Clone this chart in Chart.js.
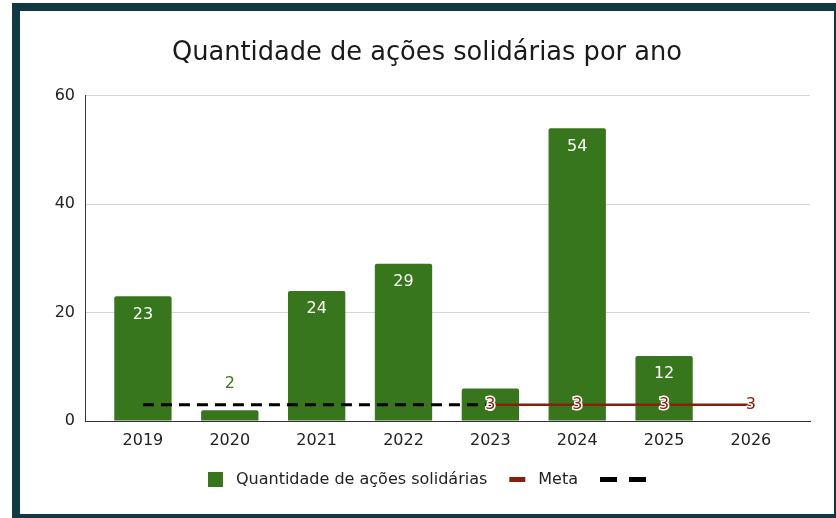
<!DOCTYPE html>
<html lang="pt-BR">
<head>
<meta charset="utf-8">
<title>Quantidade de ações solidárias por ano</title>
<script src="https://cdn.jsdelivr.net/npm/chart.js@4"></script>
<style>
  html, body { margin: 0; padding: 0; background: #fff; overflow: hidden; }
  .moldura {
    position: absolute;
    left: 12px;
    top: 3px;
    width: 814px;
    height: 503px;
    border: 8px solid #0f3a43;
    background: #fff;
  }
  canvas { display: block; }
</style>
</head>
<body>
<div class="moldura"><canvas id="graficoAcoes" width="814" height="503"></canvas></div>
<script>
const anos = ["2019", "2020", "2021", "2022", "2023", "2024", "2025", "2026"];
const acoes = [23, 2, 24, 29, 6, 54, 12, null];
const meta = [null, null, null, null, 3, 3, 3, 3];
const metaAnterior = [3, 3, 3, 3, 3, null, null, null];
const ticksY = [0, 20, 40, 60];

const VERDE = "#38761d";
const VERMELHO = "#85200c";
const FONTE = "'DejaVu Sans', Verdana, sans-serif";
const TAM = 16;

Chart.defaults.font.family = FONTE;
Chart.defaults.font.size = TAM;
Chart.defaults.color = "#222";

// pares {x, y} para o eixo x linear (sem os valores vazios)
const pontos = (lista) => lista
  .map((v, i) => ({ x: i, y: v }))
  .filter(p => p.y !== null);

// rótulos de valor das barras e da meta
const rotulos = {
  id: "rotulos",
  afterDatasetsDraw(chart) {
    const ctx = chart.ctx;
    const yScale = chart.scales.y;
    ctx.save();
    ctx.font = TAM + "px " + FONTE;
    ctx.textAlign = "center";
    ctx.textBaseline = "middle";

    const barras = chart.getDatasetMeta(0);
    barras.data.forEach((el, k) => {
      const ponto = chart.data.datasets[0].data[k];
      const altura = el.base - el.y;
      if (altura > 30) {
        ctx.fillStyle = "#fff";
        ctx.fillText(String(ponto.y), el.x, el.y + 18);
      } else {
        const alvo = metaAnterior[ponto.x] ?? meta[ponto.x];
        const yLinha = yScale.getPixelForValue(alvo);
        ctx.fillStyle = VERDE;
        ctx.fillText(String(ponto.y), el.x, Math.min(el.y, yLinha - 13) - 7.5);
      }
    });

    const linhaMeta = chart.getDatasetMeta(1);
    linhaMeta.data.forEach((el, k) => {
      const txt = String(chart.data.datasets[1].data[k].y);
      ctx.lineWidth = 3;
      ctx.strokeStyle = "#fff";
      ctx.lineJoin = "round";
      ctx.strokeText(txt, el.x, el.y);
      ctx.fillStyle = VERMELHO;
      ctx.fillText(txt, el.x, el.y);
    });
    ctx.restore();
  }
};

// legenda desenhada à mão: quadrado, traço e traço duplo
const legendaManual = {
  id: "legendaManual",
  afterDraw(chart) {
    const ctx = chart.ctx;
    const cy = chart.chartArea.bottom + 58.5;
    ctx.save();
    ctx.font = TAM + "px " + FONTE;
    ctx.textBaseline = "middle";
    const itens = chart.data.datasets.map(ds => {
      let marca = 15;
      if (ds.type === "line") marca = ds.borderDash ? 46 : 16;
      const texto = ds.label || "";
      const larguraTexto = texto ? 13 + ctx.measureText(texto).width : 0;
      return { ds, marca, texto, largura: marca + larguraTexto };
    });
    const total = itens.reduce((s, it) => s + it.largura, 0) + 22 * (itens.length - 1);
    let x = (chart.width - total) / 2;
    itens.forEach(it => {
      const ds = it.ds;
      if (ds.type !== "line") {
        ctx.fillStyle = ds.backgroundColor;
        ctx.fillRect(x, cy - 7.5, 15, 15);
      } else {
        ctx.fillStyle = ds.borderColor;
        if (ds.borderDash) {
          ctx.fillRect(x, cy - 2.5, 17, 5);
          ctx.fillRect(x + 29, cy - 2.5, 17, 5);
        } else {
          ctx.fillRect(x, cy - 2.5, 16, 5);
        }
      }
      if (it.texto) {
        ctx.fillStyle = "#222";
        ctx.fillText(it.texto, x + it.marca + 13, cy + 0.5);
      }
      x += it.largura + 22;
    });
    ctx.restore();
  }
};

new Chart(document.getElementById("graficoAcoes"), {
  type: "bar",
  data: {
    datasets: [
      {
        label: "Quantidade de ações solidárias",
        data: pontos(acoes),
        backgroundColor: VERDE,
        borderRadius: 2,
        borderSkipped: "bottom",
        barPercentage: 0.66,
        categoryPercentage: 1,
        order: 2
      },
      {
        type: "line",
        label: "Meta",
        data: pontos(meta),
        borderColor: VERMELHO,
        borderWidth: 2.5,
        pointRadius: 0,
        tension: 0,
        order: 1
      },
      {
        type: "line",
        label: "",
        data: pontos(metaAnterior),
        borderColor: "#000",
        borderWidth: 3,
        borderDash: [11, 7],
        pointRadius: 0,
        tension: 0,
        order: 1
      }
    ]
  },
  options: {
    responsive: false,
    animation: false,
    layout: { padding: { left: 24, right: 24, top: 0, bottom: 63 } },
    plugins: {
      legend: { display: false },
      tooltip: { enabled: false },
      title: {
        display: true,
        text: "Quantidade de ações solidárias por ano",
        color: "#1a1a1a",
        font: { family: FONTE, size: 25.7, weight: "normal" },
        padding: { top: 27, bottom: 27 }
      }
    },
    scales: {
      x: {
        type: "linear",
        offset: false,
        min: -0.667,
        max: 7.68,
        afterBuildTicks: (scale) => {
          scale.ticks = anos.map((a, i) => ({ value: i }));
        },
        afterFit: (scale) => { scale.height = 30; },
        grid: { display: false, drawTicks: false, offset: false },
        border: { display: true, color: "#333", width: 1 },
        ticks: {
          autoSkip: false,
          maxRotation: 0,
          padding: 10,
          callback: (v) => anos[v]
        }
      },
      y: {
        min: ticksY[0],
        max: ticksY[ticksY.length - 1],
        afterBuildTicks: (scale) => {
          scale.ticks = ticksY.map(v => ({ value: v }));
        },
        afterFit: (scale) => { scale.width = 41; },
        grid: {
          drawTicks: false,
          color: (c) => c.tick && c.tick.value === 0 ? "rgba(0,0,0,0)" : "#d6d6d6"
        },
        border: { display: true, color: "#333", width: 1 },
        ticks: { padding: 10 }
      }
    }
  },
  plugins: [rotulos, legendaManual]
});
</script>
</body>
</html>
